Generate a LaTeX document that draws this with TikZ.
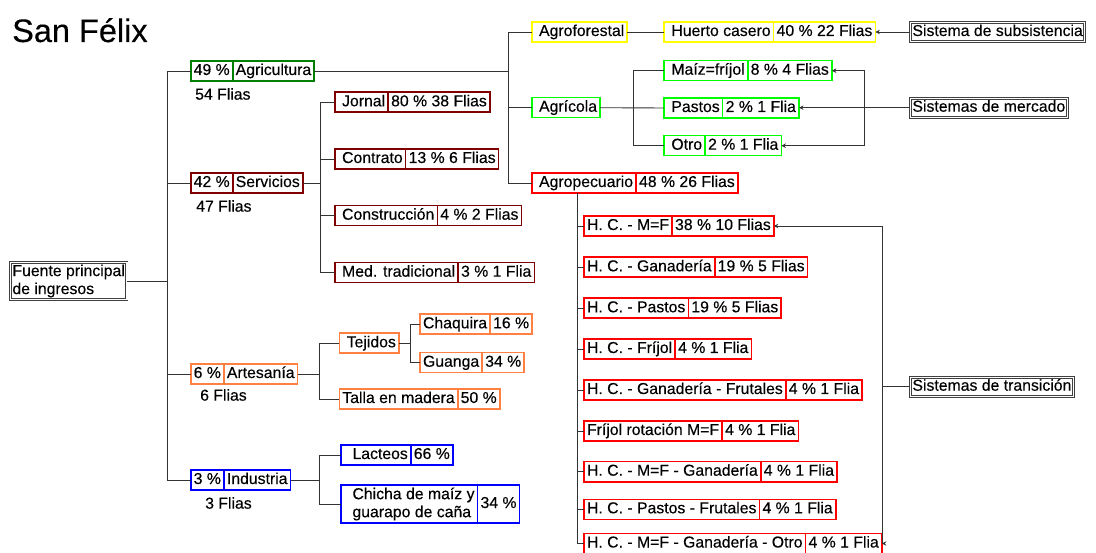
\documentclass[tikz,border=0pt]{standalone}
\usepackage{fontspec}
\setmainfont{Liberation Sans}[FakeBold=0.3]
\usetikzlibrary{arrows.meta}
\definecolor{agrigreen}{HTML}{008000}
\definecolor{servred}{HTML}{800000}
\definecolor{artorange}{HTML}{FF8040}
\definecolor{indblue}{HTML}{0000FF}
\definecolor{foryellow}{HTML}{FFFF00}
\definecolor{agrlime}{HTML}{00FF00}
\definecolor{pecred}{HTML}{FF0000}
\tikzset{
  cell/.style={draw=#1, line width=1.6pt, inner xsep=3pt, inner ysep=2.5pt,
    text height=11.5pt, text depth=3.5pt, outer sep=0pt, anchor=west},
  tallcell/.style={draw=#1, line width=1.6pt, inner xsep=3pt, inner ysep=2.5pt,
    outer sep=0pt, anchor=west, align=left},
  dbl/.style={draw=black!75, double, double distance=1.3pt, line width=0.9pt},
  sysbox/.style={dbl, inner sep=2pt, text height=11.5pt, text depth=3.5pt, anchor=west},
  wire/.style={black!80, line width=0.9pt},
  count/.style={anchor=west, inner sep=0pt},
}
\begin{document}
\begin{tikzpicture}[x=1pt, y=-1pt, font=\fontsize{15.8}{18}\selectfont,
  >={Stealth[length=4.5pt,width=4.5pt]}]
\useasboundingbox (0,0) rectangle (1096,553);
% Title and root
\node[anchor=base west, inner sep=0pt, font=\fontsize{32.5}{36}\selectfont] (title) at (12,42) {San Félix};
\node[dbl, align=left, inner sep=2pt, anchor=west] (fuente) at (10,281) {Fuente principal\\de ingresos};
% First level
\node[cell=agrigreen] (pagri) at (190.7,71) {49 \%};
\node[cell=agrigreen] (agri) at (pagri.east) {Agricultura};
\node[count] (nagri) at (195,94) {54 Flias};
\node[cell=servred] (pserv) at (190.7,183) {42 \%};
\node[cell=servred] (serv) at (pserv.east) {Servicios};
\node[count] (nserv) at (196,206) {47 Flias};
\node[cell=artorange] (partes) at (190.7,374) {6 \%};
\node[cell=artorange] (artes) at (partes.east) {Artesanía};
\node[count] (nartes) at (200,395) {6 Flias};
\node[cell=indblue] (pind) at (190.7,480) {3 \%};
\node[cell=indblue] (ind) at (pind.east) {Industria};
\node[count] (nind) at (205,503) {3 Flias};
\coordinate (trunk) at (167,0);
\draw[wire] (fuente.east) -- (fuente.east -| trunk);
\draw[wire] (pagri.west) -- (pagri.west -| trunk) -- (pind.west -| trunk) -- (pind.west);
\draw[wire] (pserv.west) -- (pserv.west -| trunk);
\draw[wire] (partes.west) -- (partes.west -| trunk);
% Servicios
\node[cell=servred] (jornal) at (334.7,102.3) {\ Jornal};
\node[cell=servred] (jornalv) at (jornal.east) {80 \% 38 Flias};
\node[cell=servred] (contrato) at (334.7,159) {\ Contrato};
\node[cell=servred] (contratov) at (contrato.east) {13 \% 6 Flias};
\node[cell=servred] (constr) at (334.7,215.7) {\ Construcción};
\node[cell=servred] (constrv) at (constr.east) {4 \% 2 Flias};
\node[cell=servred] (medtrad) at (334.7,272.7) {\ Med. tradicional};
\node[cell=servred] (medtradv) at (medtrad.east) {3 \% 1 Flia};
\coordinate (strunk) at (320.7,0);
\draw[wire] (serv.east) -- (serv.east -| strunk);
\draw[wire] (jornal.west) -- (jornal.west -| strunk) -- (medtrad.west -| strunk) -- (medtrad.west);
\draw[wire] (contrato.west) -- (contrato.west -| strunk);
\draw[wire] (constr.west) -- (constr.west -| strunk);
% Artesania
\node[cell=artorange] (tejidos) at (339.3,343.3) {\ Tejidos};
\node[cell=artorange] (talla) at (339.3,399) {Talla en madera};
\node[cell=artorange] (tallav) at (talla.east) {50 \%};
\node[cell=artorange] (chaquira) at (420,324.3) {Chaquira};
\node[cell=artorange] (chaquirav) at (chaquira.east) {16 \%};
\node[cell=artorange] (guanga) at (420,362.7) {Guanga};
\node[cell=artorange] (guangav) at (guanga.east) {34 \%};
\coordinate (atrunk) at (319.3,0);
\draw[wire] (artes.east) -- (artes.east -| atrunk);
\draw[wire] (tejidos.west) -- (tejidos.west -| atrunk) -- (talla.west -| atrunk) -- (talla.west);
\coordinate (ttrunk) at (410,0);
\draw[wire] (tejidos.east) -- (tejidos.east -| ttrunk);
\draw[wire] (chaquira.west) -- (chaquira.west -| ttrunk) -- (guanga.west -| ttrunk) -- (guanga.west);
% Industria
\node[cell=indblue] (lacteos) at (340.7,455) {\ \ Lacteos};
\node[cell=indblue] (lacteosv) at (lacteos.east) {66 \%};
\node[tallcell=indblue] (chicha) at (340.7,504) {\ \ Chicha de maíz y\\\ \ guarapo de caña};
\node[cell=indblue, minimum height=38pt] (chichav) at (chicha.east) {34 \%};
\coordinate (itrunk) at (319.3,0);
\draw[wire] (ind.east) -- (ind.east -| itrunk);
\draw[wire] (lacteos.west) -- (lacteos.west -| itrunk) -- (chicha.west -| itrunk) -- (chicha.west);
% Agricultura
\node[cell=foryellow] (agrofor) at (531.7,32) {\ Agroforestal};
\node[cell=agrlime] (agricola) at (531.7,107.7) {\ Agrícola};
\node[cell=pecred] (agrop) at (531.7,183) {\ Agropecuario};
\node[cell=pecred] (agropv) at (agrop.east) {48 \% 26 Flias};
\coordinate (gtrunk) at (508,0);
\draw[wire] (agri.east) -- (agri.east -| gtrunk);
\draw[wire] (agrofor.west) -- (agrofor.west -| gtrunk) -- (agrop.west -| gtrunk) -- (agrop.west);
\draw[wire] (agricola.west) -- (agricola.west -| gtrunk);
\node[cell=foryellow] (huerto) at (664,32) {\ Huerto casero};
\node[cell=foryellow] (huertov) at (huerto.east) {40 \% 22 Flias};
\node[cell=agrlime] (maiz) at (664,70.7) {\ Maíz=fríjol};
\node[cell=agrlime] (maizv) at (maiz.east) {8 \% 4 Flias};
\node[cell=agrlime] (pastos) at (664,108) {\ Pastos};
\node[cell=agrlime] (pastosv) at (pastos.east) {2 \% 1 Flia};
\node[cell=agrlime] (otro) at (664,145.7) {\ Otro};
\node[cell=agrlime] (otrov) at (otro.east) {2 \% 1 Flia};
\draw[wire] (agrofor.east) -- (huerto.west);
\draw[wire] (agricola.east) -- (pastos.west);
\coordinate (ctrunk) at (633,0);
\draw[wire] (maiz.west) -- (maiz.west -| ctrunk) -- (otro.west -| ctrunk) -- (otro.west);
% Systems
\node[sysbox] (subs) at (910,32) {Sistema de subsistencia};
\node[sysbox] (merc) at (910,107.7) {Sistemas de mercado};
\node[sysbox] (trans) at (910,386.7) {Sistemas de transición};
\draw[wire,->] (subs.west) -- (subs.west -| huertov.east);
\draw[wire,->] (merc.west) -- (merc.west -| pastosv.east);
\coordinate (mtrunk) at (864.3,0);
\draw[wire,<->] (maizv.east) -- (maizv.east -| mtrunk) -- (otrov.east -| mtrunk) -- (otrov.east);
% Agropecuario
\node[cell=pecred] (hc1) at (584,226) {H. C. - M=F};
\node[cell=pecred] (hc1v) at (hc1.east) {38 \% 10 Flias};
\node[cell=pecred] (hc2) at (584,267.3) {H. C. - Ganadería};
\node[cell=pecred] (hc2v) at (hc2.east) {19 \% 5 Flias};
\node[cell=pecred] (hc3) at (584,308.3) {H. C. - Pastos};
\node[cell=pecred] (hc3v) at (hc3.east) {19 \% 5 Flias};
\node[cell=pecred] (hc4) at (584,349) {H. C. - Fríjol};
\node[cell=pecred] (hc4v) at (hc4.east) {4 \% 1 Flia};
\node[cell=pecred] (hc5) at (584,390) {H. C. - Ganadería - Frutales};
\node[cell=pecred] (hc5v) at (hc5.east) {4 \% 1 Flia};
\node[cell=pecred] (hc6) at (584,431) {Fríjol rotación M=F};
\node[cell=pecred] (hc6v) at (hc6.east) {4 \% 1 Flia};
\node[cell=pecred] (hc7) at (584,471.7) {H. C. - M=F - Ganadería};
\node[cell=pecred] (hc7v) at (hc7.east) {4 \% 1 Flia};
\node[cell=pecred] (hc8) at (584,509.3) {H. C. - Pastos - Frutales};
\node[cell=pecred] (hc8v) at (hc8.east) {4 \% 1 Flia};
\node[cell=pecred] (hc9) at (584,543.5) {H. C. - M=F - Ganadería - Otro};
\node[cell=pecred] (hc9v) at (hc9.east) {4 \% 1 Flia};
\coordinate (ptrunk) at (577,0);
\draw[wire] (agrop.south -| ptrunk) -- (hc9.west -| ptrunk);
\draw[wire] (hc1.west) -- (hc1.west -| ptrunk);
\draw[wire] (hc2.west) -- (hc2.west -| ptrunk);
\draw[wire] (hc3.west) -- (hc3.west -| ptrunk);
\draw[wire] (hc4.west) -- (hc4.west -| ptrunk);
\draw[wire] (hc5.west) -- (hc5.west -| ptrunk);
\draw[wire] (hc6.west) -- (hc6.west -| ptrunk);
\draw[wire] (hc7.west) -- (hc7.west -| ptrunk);
\draw[wire] (hc8.west) -- (hc8.west -| ptrunk);
\draw[wire] (hc9.west) -- (hc9.west -| ptrunk);
\coordinate (xtrunk) at (882.7,0);
\draw[wire,<->] (hc1v.east) -- (hc1v.east -| xtrunk) -- (hc9v.east -| xtrunk) -- (hc9v.east);
\draw[wire] (trans.west) -- (trans.west -| xtrunk);
\end{tikzpicture}
\end{document}
